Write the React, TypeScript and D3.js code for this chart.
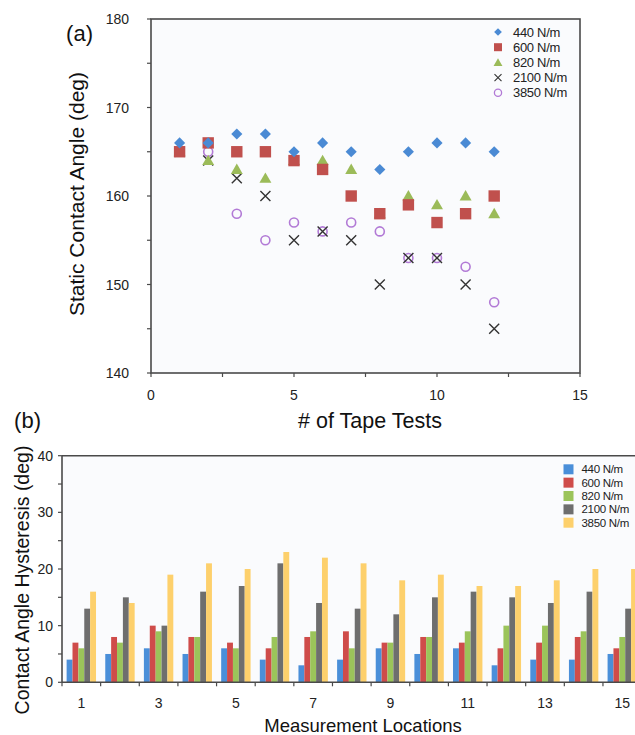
import React from 'react';
import * as d3 from 'd3';

// (a) static contact angle vs number of tape tests
const tapeTests = [1, 2, 3, 4, 5, 6, 7, 8, 9, 10, 11, 12];
const angle440 = [166, 166, 167, 167, 165, 166, 165, 163, 165, 166, 166, 165];
const angle600 = [165, 166, 165, 165, 164, 163, 160, 158, 159, 157, 158, 160];
const angle820 = [165, 164, 163, 162, 164, 164, 163, 158, 160, 159, 160, 158];
const angle2100 = [165, 164, 162, 160, 155, 156, 155, 150, 153, 153, 150, 145];
const angle3850 = [165, 165, 158, 155, 157, 156, 157, 156, 153, 153, 152, 148];
const seriesNames = ['440 N/m', '600 N/m', '820 N/m', '2100 N/m', '3850 N/m'];
const xTicksA = [0, 5, 10, 15];
const yTicksA = [140, 150, 160, 170, 180];

// (b) contact angle hysteresis per measurement location
const locations = [1, 2, 3, 4, 5, 6, 7, 8, 9, 10, 11, 12, 13, 14, 15];
const hyst440 = [4, 5, 6, 5, 6, 4, 3, 4, 6, 5, 6, 3, 4, 4, 5];
const hyst600 = [7, 8, 10, 8, 7, 6, 8, 9, 7, 8, 7, 6, 7, 8, 6];
const hyst820 = [6, 7, 9, 8, 6, 8, 9, 6, 7, 8, 9, 10, 10, 9, 8];
const hyst2100 = [13, 15, 10, 16, 17, 21, 14, 13, 12, 15, 16, 15, 14, 16, 13];
const hyst3850 = [16, 14, 19, 21, 20, 23, 22, 21, 18, 19, 17, 17, 18, 20, 20];
const yTicksB = [0, 10, 20, 30, 40];

const FONT = '"Liberation Sans", Arial, Helvetica, sans-serif';
const AXIS = '#4a4a4a';
const markerColors = ['#4a8ad4', '#c0504d', '#9bbb59', '#333333', '#b27ad6'];
const barColors = ['#4a8fd9', '#cf4c4a', '#9bc45a', '#6e6e6e', '#fdd06c'];

function Marker({ kind, x, y }: { kind: number; x: number; y: number }) {
  const c = markerColors[kind];
  if (kind === 0) {
    const p = d3.symbol().type(d3.symbolSquare).size(62)();
    return <path d={p!} transform={`translate(${x},${y}) rotate(45)`} fill={c} />;
  }
  if (kind === 1) {
    const p = d3.symbol().type(d3.symbolSquare).size(130)();
    return <path d={p!} transform={`translate(${x},${y})`} fill={c} />;
  }
  if (kind === 2) {
    const p = d3.symbol().type(d3.symbolTriangle).size(62)();
    return <path d={p!} transform={`translate(${x},${y + 1})`} fill={c} />;
  }
  if (kind === 3) {
    const r = 5;
    return (
      <path d={`M${x - r},${y - r}L${x + r},${y + r}M${x - r},${y + r}L${x + r},${y - r}`}
        stroke={c} strokeWidth={1.4} fill="none" />
    );
  }
  return <circle cx={x} cy={y} r={4.5} fill="none" stroke={c} strokeWidth={1.6} />;
}

export default function App() {
  // ---------- panel (a)
  const xA = d3.scaleLinear().domain([0, 15]).range([151, 580]);
  const yA = d3.scaleLinear().domain([140, 180]).range([373, 19]);
  const seriesA = [angle440, angle600, angle820, angle2100, angle3850];

  // ---------- panel (b)
  const xB = d3.scaleBand<number>().domain(locations).range([62, 62 + 15 * 38.64]).padding(0);
  const sub = d3.scaleBand<number>().domain([0, 1, 2, 3, 4]).range([-14.7, 14.7]);
  const yB = d3.scaleLinear().domain([0, 40]).range([682.3, 455.7]);
  const seriesB = [hyst440, hyst600, hyst820, hyst2100, hyst3850];

  return (
    <div style={{ position: 'absolute', left: 0, top: 0 }}>
      <svg width={635} height={735} style={{ display: 'block', background: '#fff' }} fontFamily={FONT}>
        {/* panel (a) */}
        <rect x={xA(0)} y={yA(180)} width={xA(15) - xA(0)} height={yA(140) - yA(180)}
          fill="#fafbfd" stroke={AXIS} strokeWidth={1.6} />
        {d3.range(140, 181, 5).map(v => (
          <line key={'ya' + v} x1={xA(0) - 4} x2={xA(0)} y1={yA(v)} y2={yA(v)} stroke={AXIS} strokeWidth={1.2} />
        ))}
        {d3.range(0, 15.1, 2.5).map(v => (
          <line key={'xa' + v} x1={xA(v)} x2={xA(v)} y1={yA(140)} y2={yA(140) + 4} stroke={AXIS} strokeWidth={1.2} />
        ))}
        {yTicksA.map(v => (
          <text key={'yla' + v} x={xA(0) - 22} y={yA(v) + 5} textAnchor="end" fontSize={14} fill="#222">{v}</text>
        ))}
        {xTicksA.map(v => (
          <text key={'xla' + v} x={xA(v)} y={yA(140) + 27} textAnchor="middle" fontSize={14} fill="#222">{v}</text>
        ))}
        <text x={93} y={41} fontSize={22} textAnchor="end" fill="#111">(a)</text>
        <text transform={`translate(84,194) rotate(-90)`} textAnchor="middle"
          fontSize={21} fill="#111">Static Contact Angle (deg)</text>
        <text x={370} y={428} textAnchor="middle" fontSize={21.5} fill="#111"># of Tape Tests</text>
        {[4, 3, 2, 1, 0].map(k => (
          <g key={'s' + k}>
            {tapeTests.map((t, i) => (
              <Marker key={i} kind={k} x={xA(t)} y={yA(seriesA[k][i])} />
            ))}
          </g>
        ))}
        {seriesNames.map((n, k) => {
          const ly = 32 + k * 15.2;
          return (
            <g key={'la' + k}>
              {k === 0 && <path d={d3.symbol().type(d3.symbolSquare).size(30)()!}
                transform={`translate(498,${ly}) rotate(45)`} fill={markerColors[0]} />}
              {k === 1 && <rect x={494} y={ly - 4} width={8} height={8} fill={markerColors[1]} />}
              {k === 2 && <path d={d3.symbol().type(d3.symbolTriangle).size(34)()!}
                transform={`translate(498,${ly + 1})`} fill={markerColors[2]} />}
              {k === 3 && <path d={`M494.5,${ly - 3.5}L501.5,${ly + 3.5}M494.5,${ly + 3.5}L501.5,${ly - 3.5}`}
                stroke={markerColors[3]} strokeWidth={1.1} />}
              {k === 4 && <circle cx={498} cy={ly} r={3.6} fill="none" stroke={markerColors[4]} strokeWidth={1.3} />}
              <text x={513} y={ly + 4.5} fontSize={13} fill="#222" letterSpacing={-0.3}>{n}</text>
            </g>
          );
        })}

        {/* panel (b) */}
        <rect x={62} y={455.7} width={573} height={682.3 - 455.7} fill="#fafbfd" />
        {locations.map((loc, i) => (
          <g key={'g' + loc}>
            {seriesB.map((s, k) => (
              <rect key={k} x={xB(loc)! + xB.bandwidth() / 2 + sub(k)!} y={yB(s[i])}
                width={sub.bandwidth()} height={yB(0) - yB(s[i])} fill={barColors[k]} />
            ))}
          </g>
        ))}
        <line x1={62} x2={635} y1={yB(40)} y2={yB(40)} stroke={AXIS} strokeWidth={1.6} />
        <line x1={62} x2={62} y1={yB(40)} y2={yB(0)} stroke={AXIS} strokeWidth={1.6} />
        <line x1={62} x2={635} y1={yB(0)} y2={yB(0)} stroke={AXIS} strokeWidth={1.6} />
        {d3.range(0, 41, 5).map(v => (
          <line key={'yb' + v} x1={58} x2={62} y1={yB(v)} y2={yB(v)} stroke={AXIS} strokeWidth={1.2} />
        ))}
        {locations.map(loc => (
          <line key={'xb' + loc} x1={xB(loc)!} x2={xB(loc)!} y1={yB(0)} y2={yB(0) + 4} stroke={AXIS} strokeWidth={1.2} />
        ))}
        {yTicksB.map(v => (
          <text key={'ylb' + v} x={53} y={yB(v) + 5} textAnchor="end" fontSize={14} fill="#222">{v}</text>
        ))}
        {locations.filter(l => l % 2 === 1).map(l => (
          <text key={'xlb' + l} x={xB(l)! + xB.bandwidth() / 2} y={708} textAnchor="middle" fontSize={14} fill="#222">{l}</text>
        ))}
        <text x={41} y={428} fontSize={22} textAnchor="end" fill="#111">(b)</text>
        <text transform={`translate(29,580) rotate(-90)`} textAnchor="middle"
          fontSize={19.5} fill="#111">Contact Angle Hysteresis (deg)</text>
        <text x={363} y={732} textAnchor="middle" fontSize={18.5} fill="#111">Measurement Locations</text>
        {seriesNames.map((n, k) => {
          const ly = 469.3 + k * 13.35;
          return (
            <g key={'lb' + k}>
              <rect x={563.5} y={ly - 5} width={10} height={10} fill={barColors[k]} />
              <text x={581.5} y={ly + 4} fontSize={11.5} fill="#222" letterSpacing={-0.3}>{n}</text>
            </g>
          );
        })}
      </svg>
    </div>
  );
}
